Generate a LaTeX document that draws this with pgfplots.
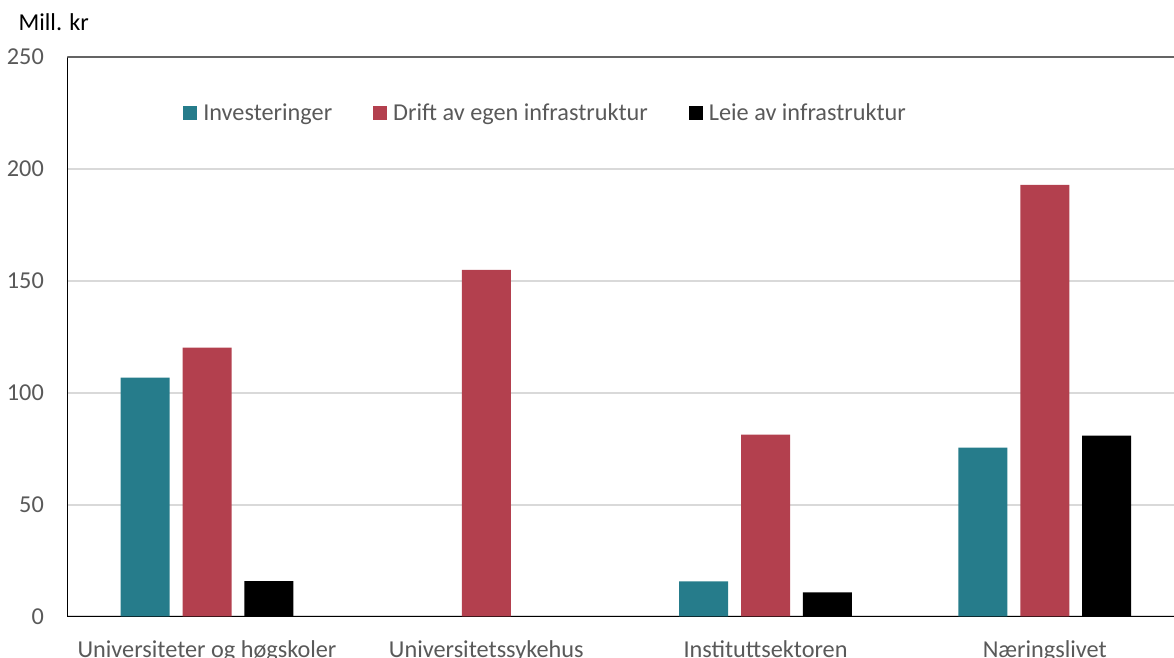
\documentclass[border=0pt]{standalone}
\usepackage{fontspec}
\setmainfont{Carlito}
\usepackage{pgfplots}
\pgfplotsset{compat=1.18}

\definecolor{invcol}{RGB}{38,124,139}
\definecolor{driftcol}{RGB}{179,64,78}
\definecolor{tickcol}{RGB}{89,89,89}
\definecolor{gridcol}{RGB}{217,217,217}
\definecolor{topcol}{RGB}{100,100,100}

\begin{document}
\begin{tikzpicture}[font=\fontsize{18.2}{21}\selectfont]
\begin{axis}[
    scale only axis,
    width=837.75pt, height=419.6pt,
    xmin=-0.5, xmax=3.5,
    ymin=0, ymax=250,
    ytick={0,50,...,250},
    xtick={0,1,2,3},
    xticklabels={Universiteter og høgskoler, Universitetssykehus, Instituttsektoren, Næringslivet},
    axis x line=bottom, axis y line=left,
    axis line style={-, black, line width=1.1pt},
    major tick length=0pt,
    ymajorgrids=true,
    grid style={gridcol, line width=1.5pt},
    yticklabel style={text=tickcol, inner sep=0pt, anchor=east, xshift=-17.5pt},
    xticklabel style={text=tickcol, inner sep=0pt, anchor=north, yshift=-17.6pt},
    /pgf/number format/assume math mode=true,
    ybar, bar width=36.75pt,
    legend columns=-1,
    legend image code/.code={\fill[#1] (0pt,-4.5pt) rectangle (10.5pt,6pt);},
    legend style={at={(0.1035,0.8990)}, anchor=west, draw=none, fill=none,
        inner sep=0pt, nodes={inner sep=0pt, text=tickcol},
        /tikz/every odd column/.append style={column sep=4.5pt},
        /tikz/every even column/.append style={column sep=30.75pt}},
]
\coordinate (O) at (rel axis cs:0,0);

\addplot[fill=invcol, draw=none, bar shift=-46.35pt]
    coordinates {(0,106.7) (2,15.7) (3,75.4)};
\addlegendentry{Investeringer}

\addplot[fill=driftcol, draw=none, bar shift=0pt]
    coordinates {(0,120.1) (1,154.9) (2,81.3) (3,192.9)};
\addlegendentry{Drift av egen infrastruktur}

\addplot[fill=black, draw=none, bar shift=46.35pt]
    coordinates {(0,15.8) (2,10.8) (3,80.8)};
\addlegendentry{Leie av infrastruktur}

\draw[topcol, line width=1.5pt] (rel axis cs:0,1) -- (rel axis cs:1,1);
\end{axis}

\path (O) ++(-36.8pt,439.35pt) node[anchor=base west, inner sep=0pt] {Mill. kr};

% crop to the reference frame
\pgfresetboundingbox
\path (O) ++(-50.55pt,-30.4pt) rectangle ++(880.5pt,492.75pt);
\end{tikzpicture}
\end{document}
